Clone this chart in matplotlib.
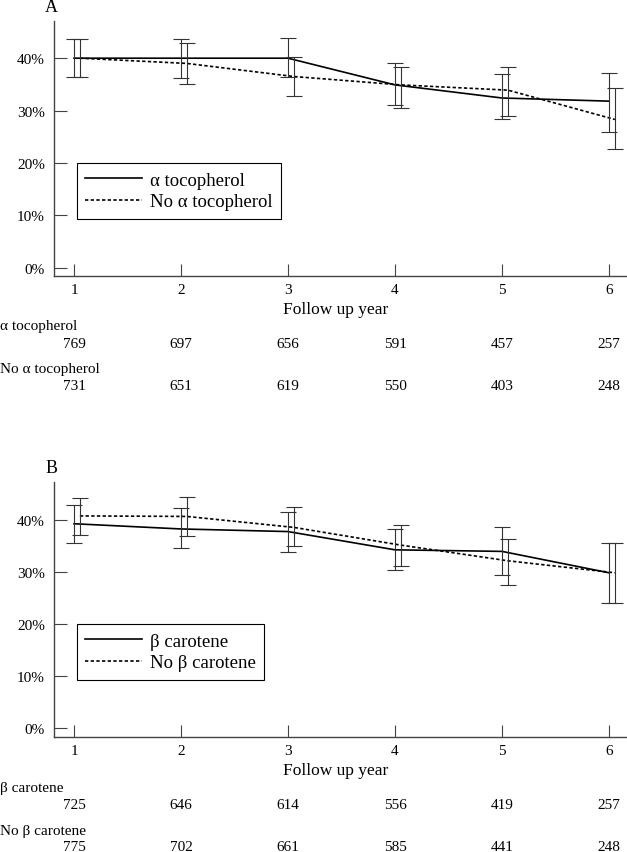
import matplotlib
matplotlib.use("Agg")
import matplotlib.pyplot as plt
from matplotlib.transforms import blended_transform_factory

plt.rcParams['font.family'] = ['Liberation Serif', 'DejaVu Serif']

years = [1, 2, 3, 4, 5, 6]
x_offset = 0.055  # zweite Serie leicht versetzt

# --- Panel A: alpha tocopherol ---
a_toc_mean = [40.0, 40.0, 40.0, 34.9, 32.4, 31.8]
a_toc_lo = [36.4, 36.2, 36.4, 31.1, 28.4, 25.9]
a_toc_hi = [43.6, 43.7, 43.8, 39.0, 36.9, 37.1]
a_no_mean = [40.0, 39.0, 36.5, 34.9, 33.9, 28.3]
a_no_lo = [36.4, 35.1, 32.7, 30.5, 29.0, 22.7]
a_no_hi = [43.6, 42.9, 40.2, 38.4, 38.4, 34.3]
n_toc = [769, 697, 656, 591, 457, 257]
n_no_toc = [731, 651, 619, 550, 403, 248]

# --- Panel B: beta carotene ---
b_car_mean = [39.2, 38.2, 37.7, 34.2, 33.9, 29.8]
b_car_lo = [35.6, 34.5, 33.8, 30.4, 29.3, 24.0]
b_car_hi = [42.8, 42.2, 41.5, 38.2, 38.5, 35.5]
b_no_mean = [40.7, 40.6, 38.5, 35.1, 32.1, 29.8]
b_no_lo = [37.0, 36.9, 35.0, 31.1, 27.5, 24.0]
b_no_hi = [44.1, 44.4, 42.4, 39.0, 36.3, 35.5]
n_car = [725, 646, 614, 556, 419, 257]
n_no_car = [775, 702, 661, 585, 441, 248]

y_ticks = [0, 10, 20, 30, 40]
y_labels = ["0%", "10%", "20%", "30%", "40%"]

W, H = 627, 853
fig = plt.figure(figsize=(W / 100, H / 100), dpi=100)

DASH = (0, (2.0, 1.4))
EB_COLOR = "#333333"


def draw_panel(ax, letter, mean1, lo1, hi1, mean2, lo2, hi2, lab1, lab2, ylim):
    x2 = [x + x_offset for x in years]
    ax.plot(years, mean1, color="black", lw=1.2, label=lab1)
    ax.plot(x2, mean2, color="black", lw=1.2, linestyle=DASH, label=lab2)
    err1 = [[m - l for m, l in zip(mean1, lo1)], [h - m for m, h in zip(mean1, hi1)]]
    err2 = [[m - l for m, l in zip(mean2, lo2)], [h - m for m, h in zip(mean2, hi2)]]
    ax.errorbar(years, mean1, yerr=err1, fmt="none", ecolor=EB_COLOR, elinewidth=0.8,
                capsize=6, capthick=0.8)
    ax.errorbar(x2, mean2, yerr=err2, fmt="none", ecolor=EB_COLOR, elinewidth=0.8,
                capsize=6, capthick=0.8)

    ax.set_xlim(0.813, 6.168)
    ax.set_ylim(*ylim)
    ax.set_xticks(years)
    ax.set_xticklabels([str(y) for y in years])
    ax.set_yticks(y_ticks)
    ax.set_yticklabels(y_labels)
    ax.tick_params(axis="both", direction="in", length=9, width=0.8, color="#444444",
                   labelsize=11)
    ax.tick_params(axis="y", pad=6.5)
    ax.tick_params(axis="x", pad=4.5)
    for s in ["top", "right"]:
        ax.spines[s].set_visible(False)
    for s in ["left", "bottom"]:
        ax.spines[s].set_color("#444444")
        ax.spines[s].set_linewidth(1.0)

    leg = ax.legend(loc="upper left", bbox_to_anchor=(0.040, 0.444), borderaxespad=0,
                    fontsize=13.5, handlelength=3.0, handletextpad=0.45, borderpad=0.45,
                    labelspacing=0.25, fancybox=False, framealpha=1)
    leg.get_frame().set_edgecolor("black")
    leg.get_frame().set_linewidth(0.8)

    ax.text(-0.005, 1.0 + 0.055, letter, transform=ax.transAxes, fontsize=13,
            ha="center", va="center")


def table_rows(ax, y_follow, rows):
    tr = blended_transform_factory(ax.transData, fig.transFigure)
    fig.text(0.5 + 0.035, 1 - y_follow / H, "Follow up year", fontsize=12.5,
             ha="center", va="center")
    for name, counts, y_name, y_num in rows:
        fig.text(0.0, 1 - y_name / H, name, fontsize=11, ha="left", va="center")
        for x, n in zip(years, counts):
            ax.text(x, 1 - y_num / H, str(n), transform=tr, fontsize=11,
                    ha="center", va="center")


axA = fig.add_axes([54 / W, 1 - 277.3 / H, 573 / W, 255.3 / H])
draw_panel(axA, "A", a_toc_mean, a_toc_lo, a_toc_hi, a_no_mean, a_no_lo, a_no_hi,
           "α tocopherol", "No α tocopherol", (-1.64, 47.1))
table_rows(axA, 310, [("α tocopherol", n_toc, 327, 345),
                      ("No α tocopherol", n_no_toc, 370, 387)])

axB = fig.add_axes([54 / W, 1 - 738.3 / H, 573 / W, 255.3 / H])
draw_panel(axB, "B", b_car_mean, b_car_lo, b_car_hi, b_no_mean, b_no_lo, b_no_hi,
           "β carotene", "No β carotene", (-1.73, 47.2))
table_rows(axB, 771, [("β carotene", n_car, 789, 806),
                      ("No β carotene", n_no_car, 832, 848)])

plt.savefig("out.png", dpi=100)
